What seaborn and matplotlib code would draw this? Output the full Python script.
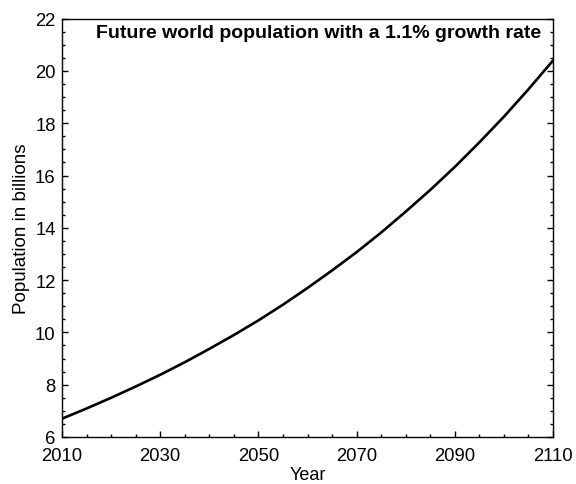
import matplotlib
matplotlib.use("Agg")
import matplotlib.pyplot as plt
from matplotlib.ticker import MultipleLocator
import pandas as pd
import seaborn as sns

# Projected world population (billions), 1.1% annual growth
years = [2010, 2015, 2020, 2025, 2030, 2035, 2040, 2045, 2050, 2055, 2060,
         2065, 2070, 2075, 2080, 2085, 2090, 2095, 2100, 2105, 2110]
population = [6.70, 7.09, 7.50, 7.93, 8.38, 8.86, 9.37, 9.90, 10.46, 11.06, 11.70,
              12.37, 13.07, 13.82, 14.62, 15.45, 16.33, 17.27, 18.25, 19.30, 20.40]

x_ticks = [2010, 2030, 2050, 2070, 2090, 2110]
y_ticks = [6, 8, 10, 12, 14, 16, 18, 20, 22]

df = pd.DataFrame({"Year": years, "Population": population})

sns.set_style("ticks")
plt.rcParams["font.family"] = ["Liberation Sans", "DejaVu Sans"]
plt.rcParams["text.color"] = "black"
plt.rcParams["axes.labelcolor"] = "black"

fig = plt.figure(figsize=(5.76, 4.85), dpi=100)
ax = fig.add_axes([62 / 576, 1 - 438 / 485, 491 / 576, 418.3 / 485])

sns.lineplot(data=df, x="Year", y="Population", ax=ax, color="black", linewidth=1.9)

ax.set_xlim(2010, 2110)
ax.set_ylim(6, 22)
ax.set_xticks(x_ticks)
ax.set_yticks(y_ticks)
ax.xaxis.set_minor_locator(MultipleLocator(5))
ax.yaxis.set_minor_locator(MultipleLocator(0.5))

ax.tick_params(axis="both", which="both", direction="in", labelsize=13.3,
               colors="black", labelcolor="black", top=False, right=True)
ax.tick_params(axis="both", which="major", length=4.5, width=1.0)
ax.tick_params(axis="both", which="minor", length=2.3, width=1.0)
ax.tick_params(axis="x", which="major", pad=7)
ax.tick_params(axis="y", which="major", pad=4.5)
ax.tick_params(axis="y", which="both", labelright=False)

for side in ["top", "right", "bottom", "left"]:
    ax.spines[side].set_visible(True)
    ax.spines[side].set_color("black")
    ax.spines[side].set_linewidth(1.0)

ax.set_xlabel("Year", fontsize=13, labelpad=2)
ax.set_ylabel("Population in billions", fontsize=13.5, labelpad=4)

ax.text(0.523, 0.968, "Future world population with a 1.1% growth rate",
        transform=ax.transAxes, ha="center", va="center",
        fontsize=14, fontweight="bold", color="black")

fig.savefig("out.png", dpi=100)
